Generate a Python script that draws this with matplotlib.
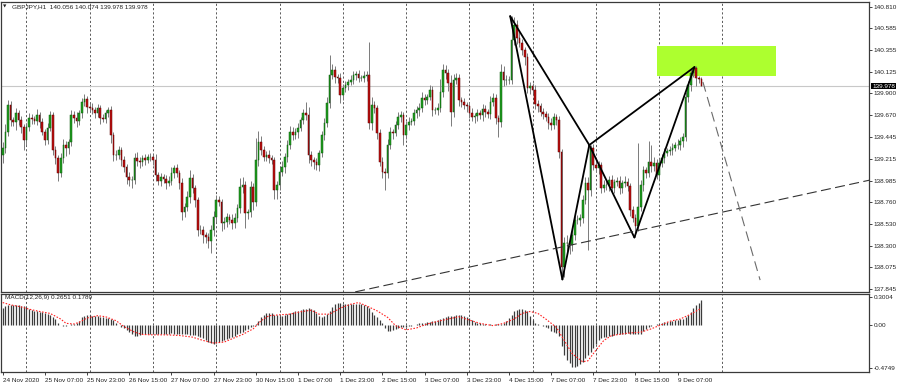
import matplotlib
matplotlib.use("Agg")
import matplotlib.pyplot as plt
from matplotlib.patches import Rectangle
import numpy as np

plt.rcParams["font.family"] = ["Liberation Sans", "DejaVu Sans"]

# ---- data (GBPJPY H1, 24 Nov 15:00 .. 9 Dec 16:00) ----
symbol_title = "GBPJPY,H1  140.056 140.074 139.978 139.978"
macd_title = "MACD(12,26,9) 0.2651 0.1789"

first_open = 139.250
closes = [
    139.328, 139.496, 139.779, 139.621, 139.600, 139.695, 139.621, 139.548, 139.412, 139.548,
    139.642, 139.632, 139.611, 139.674, 139.600, 139.496, 139.412, 139.538, 139.674, 139.307,
    139.223, 139.066, 139.223, 139.359, 139.328, 139.391, 139.674, 139.642, 139.611, 139.695,
    139.810, 139.842, 139.758, 139.747, 139.726, 139.695, 139.747, 139.642, 139.632, 139.695,
    139.726, 139.464, 139.254, 139.254, 139.307, 139.202, 139.128, 139.024, 138.992, 138.992,
    139.223, 139.191, 139.181, 139.223, 139.202, 139.233, 139.233, 139.202, 139.045, 138.982,
    139.024, 139.003, 138.961, 138.982, 139.066, 139.118, 139.066, 138.961, 138.657, 138.709,
    138.814, 139.013, 138.908, 138.782, 138.468, 138.468, 138.415, 138.394, 138.352, 138.468,
    138.604, 138.782, 138.761, 138.541, 138.552, 138.604, 138.573, 138.541, 138.594, 138.699,
    138.919, 138.940, 138.646, 138.657, 138.919, 138.761, 139.202, 139.391, 139.307, 139.233,
    139.254, 139.223, 139.202, 138.887, 138.940, 139.076, 139.128, 139.233, 139.359, 139.496,
    139.464, 139.496, 139.538, 139.621, 139.695, 139.674, 139.254, 139.202, 139.181, 139.149,
    139.275, 139.464, 139.590, 139.800, 140.093, 140.146, 140.072, 140.062, 139.884, 139.957,
    139.989, 140.020, 140.041, 140.093, 140.104, 140.062, 140.062, 140.083, 140.093, 139.590,
    139.779, 139.747, 139.485, 139.181, 139.076, 139.066, 139.359, 139.496, 139.485, 139.569,
    139.653, 139.674, 139.464, 139.569, 139.600, 139.611, 139.695, 139.726, 139.747, 139.852,
    139.831, 139.863, 139.936, 139.726, 139.726, 139.747, 139.915, 140.146, 140.114, 140.010,
    139.705, 140.041, 140.062, 139.831, 139.810, 139.779, 139.768, 139.695, 139.653, 139.663,
    139.695, 139.674, 139.737, 139.705, 139.684, 139.810, 139.852, 139.642, 139.600, 140.125,
    140.041, 140.041, 140.041, 140.460, 140.618, 140.481, 140.429, 140.356, 140.282, 139.957,
    139.978, 139.936, 139.789, 139.768, 139.705, 139.684, 139.653, 139.590, 139.569, 139.653,
    139.621, 139.286, 138.080, 138.331, 138.331, 138.310, 138.415, 138.573, 138.573, 138.594,
    138.782, 138.961, 138.887, 139.328, 139.149, 139.118, 139.149, 138.908, 138.940, 138.940,
    138.992, 138.908, 138.971, 138.982, 138.908, 138.961, 138.971, 138.929, 138.678, 138.594,
    138.510, 138.709, 138.940, 139.097, 139.066, 139.181, 139.139, 139.170, 139.045, 139.170,
    139.223, 139.275, 139.296, 139.307, 139.328, 139.359, 139.359, 139.401, 139.443, 139.863,
    139.989, 140.114, 140.167, 140.062, 140.056, 139.978,
]
# wick lengths beyond the body, in pips (0.01)
up_pips = [
    6, 8, 5, 4, 3, 5, 3, 4, 3, 4,   5, 4, 3, 6, 3, 4, 3, 5, 4, 3,
    4, 3, 5, 6, 4, 3, 5, 4, 6, 3,   4, 5, 3, 4, 5, 3, 4, 3, 4, 3,
    3, 4, 3, 5, 4, 3, 4, 3, 5, 4,   5, 6, 4, 3, 4, 3, 4, 3, 6, 3,
    4, 3, 4, 5, 6, 3, 4, 3, 5, 4,   6, 8, 4, 3, 3, 5, 4, 3, 4, 5,
    6, 5, 4, 3, 5, 4, 3, 6, 5, 4,   9, 8, 4, 3, 6, 4, 23, 12, 6, 4,
    4, 5, 3, 3, 4, 5, 6, 4, 5, 6,   5, 4, 5, 3, 4, 12, 8, 4, 3, 4,
    3, 4, 5, 6, 21, 6, 4, 3, 5, 4,  4, 3, 5, 4, 3, 4, 3, 5, 4, 35,
    8, 4, 3, 4, 5, 4, 6, 5, 3, 4,   5, 4, 3, 4, 5, 3, 4, 4, 5, 6,
    4, 3, 5, 4, 3, 5, 14, 6, 5, 4,  8, 6, 5, 4, 3, 4, 3, 4, 5, 3,
    4, 3, 5, 4, 3, 6, 5, 4, 3, 8,   6, 5, 4, 25, 8, 5, 6, 4, 3, 4,
    4, 3, 5, 4, 3, 4, 3, 4, 5, 4,   3, 4, 3, 6, 8, 5, 6, 4, 5, 4,
    5, 6, 6, 3, 4, 5, 4, 3, 5, 4,   4, 5, 3, 4, 5, 3, 6, 4, 3, 4,
    4, 67, 5, 4, 3, 22, 18, 6, 4, 5, 4, 5, 3, 4, 5, 3, 6, 4, 4, 5,
    4, 5, 1, 2, 2, 2,
]
dn_pips = [
    8, 5, 4, 6, 4, 8, 5, 6, 10, 5,  4, 5, 3, 4, 6, 3, 5, 4, 3, 5,
    6, 8, 4, 5, 8, 6, 4, 5, 6, 4,   5, 4, 6, 3, 4, 5, 4, 6, 3, 4,
    4, 8, 6, 5, 4, 6, 5, 7, 6, 8,   4, 5, 6, 4, 5, 3, 4, 5, 6, 4,
    5, 4, 6, 3, 4, 5, 4, 6, 8, 5,   4, 6, 5, 7, 6, 4, 8, 6, 7, 12,
    6, 5, 4, 8, 6, 5, 4, 6, 5, 4,   5, 6, 16, 6, 5, 8, 4, 6, 5, 4,
    4, 5, 4, 9, 9, 5, 4, 6, 5, 4,   5, 4, 6, 3, 4, 5, 8, 6, 7, 5,
    6, 4, 5, 4, 5, 4, 6, 5, 8, 5,   4, 5, 3, 4, 5, 4, 3, 4, 5, 6,
    7, 5, 6, 4, 6, 18, 5, 4, 6, 3,  4, 5, 10, 4, 5, 3, 4, 5, 6, 4,
    5, 4, 3, 6, 4, 5, 4, 5, 6, 8,   15, 5, 4, 6, 5, 4, 6, 5, 4, 6,
    5, 4, 6, 5, 4, 5, 4, 6, 16, 5,  6, 5, 4, 4, 5, 6, 4, 5, 8, 5,
    6, 4, 5, 6, 4, 5, 4, 6, 5, 4,   5, 6, 13, 10, 8, 9, 6, 5, 4, 6,
    5, 4, 63, 6, 5, 4, 6, 5, 4, 5,  6, 4, 5, 4, 6, 5, 4, 5, 6, 4,
    12, 5, 4, 6, 5, 4, 6, 5, 4, 5,  4, 5, 3, 4, 5, 3, 4, 5, 6, 4,
    5, 6, 4, 8, 5, 0,
]

macd_hist = [
    0.186, 0.204, 0.215, 0.215, 0.215, 0.215, 0.211, 0.207, 0.204, 0.193,
    0.168, 0.157, 0.150, 0.143, 0.140, 0.132, 0.125, 0.114, 0.104, 0.086,
    0.061, 0.014, -0.004, -0.011, -0.011, -0.007, 0.004, 0.011, 0.021, 0.043,
    0.079, 0.093, 0.100, 0.100, 0.097, 0.093, 0.089, 0.086, 0.079, 0.075,
    0.072, 0.064, 0.050, 0.014, -0.004, -0.021, -0.039, -0.057, -0.079, -0.107,
    -0.129, -0.122, -0.114, -0.107, -0.104, -0.100, -0.100, -0.100, -0.104, -0.104,
    -0.100, -0.100, -0.097, -0.097, -0.093, -0.097, -0.100, -0.100, -0.104, -0.107,
    -0.107, -0.111, -0.114, -0.118, -0.125, -0.136, -0.150, -0.172, -0.190, -0.200,
    -0.207, -0.200, -0.190, -0.179, -0.168, -0.157, -0.147, -0.136, -0.125, -0.107,
    -0.093, -0.079, -0.061, -0.043, -0.029, -0.014, 0.004, 0.036, 0.079, 0.107,
    0.122, 0.129, 0.122, 0.107, 0.104, 0.097, 0.093, 0.107, 0.114, 0.122,
    0.136, 0.143, 0.150, 0.157, 0.168, 0.175, 0.179, 0.172, 0.157, 0.122,
    0.097, 0.086, 0.089, 0.114, 0.150, 0.193, 0.222, 0.236, 0.240, 0.229,
    0.222, 0.222, 0.222, 0.225, 0.229, 0.229, 0.222, 0.215, 0.204, 0.179,
    0.132, 0.107, 0.079, 0.050, 0.014, -0.036, -0.064, -0.068, -0.061, -0.050,
    -0.039, -0.029, -0.029, -0.021, -0.018, -0.014, -0.007, 0.007, 0.014, 0.018,
    0.021, 0.025, 0.032, 0.036, 0.043, 0.050, 0.057, 0.072, 0.086, 0.093,
    0.097, 0.097, 0.104, 0.107, 0.107, 0.097, 0.086, 0.072, 0.050, 0.032,
    0.021, 0.014, 0.007, 0.003, -0.003, 0.003, -0.003, 0.003, 0.004, 0.007,
    0.021, 0.043, 0.072, 0.107, 0.143, 0.161, 0.168, 0.168, 0.161, 0.143,
    0.097, 0.050, 0.021, 0.007, -0.002, -0.011, -0.021, -0.039, -0.064, -0.079,
    -0.093, -0.125, -0.236, -0.333, -0.386, -0.422, -0.458, -0.465, -0.451, -0.429,
    -0.401, -0.368, -0.333, -0.297, -0.250, -0.207, -0.172, -0.147, -0.136, -0.132,
    -0.129, -0.122, -0.114, -0.107, -0.104, -0.100, -0.097, -0.093, -0.097, -0.104,
    -0.107, -0.104, -0.097, -0.072, -0.050, -0.029, -0.011, -0.002, 0.007, 0.011,
    0.014, 0.025, 0.032, 0.039, 0.043, 0.050, 0.054, 0.057, 0.064, 0.079,
    0.100, 0.132, 0.179, 0.215, 0.240, 0.2651,
]
signal_bars = [0, 3, 7, 10, 14, 18, 22, 24, 27, 29, 32, 36, 39, 43, 46, 50, 53, 57,
               62, 67, 72, 76, 80, 84, 87, 91, 95, 98, 101, 105, 109, 113, 117, 120,
               124, 128, 132, 135, 138, 142, 146, 149, 153, 157, 161, 165, 169, 173,
               177, 181, 186, 190, 194, 197, 200, 203, 206, 210, 213, 216, 220, 222,
               225, 228, 231, 237, 242, 246, 249, 253, 257, 261, 265]
signal_vals = [0.240, 0.215, 0.193, 0.168, 0.143, 0.122, 0.061, 0.014, 0.007, 0.025,
               0.072, 0.097, 0.086, 0.043, -0.021, -0.082, -0.107, -0.111, -0.111, -0.118,
               -0.136, -0.172, -0.200, -0.190, -0.154, -0.107, -0.046, 0.043, 0.097, 0.107,
               0.114, 0.140, 0.157, 0.114, 0.114, 0.179, 0.222, 0.240, 0.204, 0.150,
               0.079, -0.011, -0.057, -0.036, 0.007, 0.036, 0.061, 0.086, 0.050, 0.014,
               -0.011, 0.014, 0.061, 0.122, 0.143, 0.122, 0.061, -0.029, -0.172, -0.315,
               -0.404, -0.393, -0.279, -0.172, -0.118, -0.093, -0.082, -0.046, -0.011, 0.036,
               0.061, 0.114, 0.1789]

# harmonic pattern X, A, B, C, D
pattern_bars = [192.5, 212.3, 222.5, 239.6, 262.4]
pattern_prices = [140.710, 137.950, 139.359, 138.390, 140.177]
pattern_legs = [(0, 1), (1, 2), (2, 3), (3, 4), (0, 2), (2, 4)]
trend_bars = [133.7, 329.0]
trend_prices = [137.819, 138.992]
proj_bars = [265.6, 287.3]
proj_prices = [140.020, 137.943]
zone_bars = [248.2, 293.4]
zone_prices = [140.083, 140.398]
last_price = 139.978

price_ticks = [140.810, 140.585, 140.355, 140.125, 139.900, 139.670, 139.445,
               139.215, 138.985, 138.760, 138.530, 138.300, 138.075, 137.845]
macd_ticks = [0.3004, 0.0, -0.4749]
macd_tick_labels = ["0.3004", "0.00", "-0.4749"]
date_bars = [0, 16, 32, 48, 64, 80, 96, 112, 128, 144, 160, 176, 192, 208, 224, 240, 256]
date_labels = ["24 Nov 2020", "25 Nov 07:00", "25 Nov 23:00", "26 Nov 15:00",
               "27 Nov 07:00", "27 Nov 23:00", "30 Nov 15:00", "1 Dec 07:00",
               "1 Dec 23:00", "2 Dec 15:00", "3 Dec 07:00", "3 Dec 23:00",
               "4 Dec 15:00", "7 Dec 07:00", "7 Dec 23:00", "8 Dec 15:00", "9 Dec 07:00"]
day_start_bars = [9, 33, 57, 81, 105, 129, 153, 177, 201, 225, 249, 273]

# ---- figure ----
W, H = 900, 386
fig = plt.figure(figsize=(W / 100, H / 100), dpi=100)
fig.patch.set_facecolor("white")

def px_axes(x0, y0, x1, y1):
    return fig.add_axes([x0 / W, 1 - y1 / H, (x1 - x0) / W, (y1 - y0) / H])

ax = px_axes(1, 2, 869, 292)
ax2 = px_axes(1, 294, 869, 372)
xlim = (-0.645, 328.6)
fs = 4.6
frame = "#3a3a3a"

idx = np.arange(len(closes))
c = np.array(closes)
o = np.array([first_open] + closes[:-1])
hi = np.maximum(o, c) + np.array(up_pips) / 100.0
lo = np.minimum(o, c) - np.array(dn_pips) / 100.0
bull = c >= o

for a in (ax, ax2):
    a.set_xlim(*xlim)
    for b in day_start_bars:
        a.axvline(b, color="#5a5a5a", lw=0.7, ls=(0, (2.2, 2.2)), zorder=0.5)
    for s in a.spines.values():
        s.set_color(frame)
        s.set_linewidth(0.9)

# main panel
ax.set_ylim(137.818, 140.859)
ax.add_patch(Rectangle((zone_bars[0], zone_prices[0]), zone_bars[1] - zone_bars[0],
                       zone_prices[1] - zone_prices[0], facecolor="#adff2f",
                       edgecolor="none", zorder=1))
ax.axhline(last_price, color="#c8c8c8", lw=0.8, zorder=1.5)
ax.vlines(idx, lo, hi, color="#7a7a7a", lw=0.7, zorder=2)
body_h = np.maximum(np.abs(c - o), 0.004)
ax.bar(idx[bull], body_h[bull], bottom=np.minimum(o, c)[bull], width=0.62,
       color="#1f9e1f", edgecolor="#0b5a0b", linewidth=0.35, zorder=3)
ax.bar(idx[~bull], body_h[~bull], bottom=np.minimum(o, c)[~bull], width=0.62,
       color="#c01010", edgecolor="#5a0000", linewidth=0.35, zorder=3)

for i, j in pattern_legs:
    ax.plot([pattern_bars[i], pattern_bars[j]], [pattern_prices[i], pattern_prices[j]],
            color="black", lw=1.3, zorder=4, solid_capstyle="round")
ax.plot(trend_bars, trend_prices, color="#333333", lw=0.8, ls=(0, (9, 4)), zorder=4)
ax.plot(proj_bars, proj_prices, color="#6a6a6a", lw=0.8, ls=(0, (9, 5)), zorder=4)

ax.yaxis.tick_right()
ax.set_yticks(price_ticks)
ax.set_yticklabels([f"{p:.3f}" for p in price_ticks])
ax.tick_params(axis="y", length=2, width=0.6, pad=1.5, labelsize=fs, colors="#222222")
ax.set_xticks([])
ax.annotate(f"{last_price:.3f}", xy=(1.0, last_price), xycoords=("axes fraction", "data"),
            xytext=(2.2, 0), textcoords="offset points", ha="left", va="center",
            fontsize=fs, color="white",
            bbox=dict(boxstyle="square,pad=0.15", facecolor="black", edgecolor="none"))

# MACD panel
ax2.set_ylim(-0.515, 0.333)
ax2.vlines(idx, 0, macd_hist, color="#3c3c3c", lw=0.9, zorder=2)
ax2.plot(signal_bars, signal_vals, color="#ff2020", lw=0.8, ls=(0, (1.4, 1.4)), zorder=3)
ax2.yaxis.tick_right()
ax2.set_yticks(macd_ticks)
ax2.set_yticklabels(macd_tick_labels)
ax2.tick_params(axis="y", length=2, width=0.6, pad=1.5, labelsize=fs, colors="#222222")
ax2.set_xticks(date_bars)
ax2.set_xticklabels(date_labels)
ax2.tick_params(axis="x", length=2, width=0.6, pad=2, labelsize=fs, colors="#222222")
for t in ax2.get_xticklabels():
    t.set_ha("left")

fig.text(3 / W, 1 - 7 / H, "\u25bc", fontsize=3.2, ha="left", va="center",
         family="DejaVu Sans", color="#222222")
fig.text(12 / W, 1 - 7 / H, symbol_title, fontsize=fs, ha="left", va="center",
         color="#222222")
fig.text(5 / W, 1 - 298 / H, macd_title, fontsize=fs, ha="left", va="center",
         color="#222222")

fig.savefig("out.png", dpi=100, facecolor="white")
